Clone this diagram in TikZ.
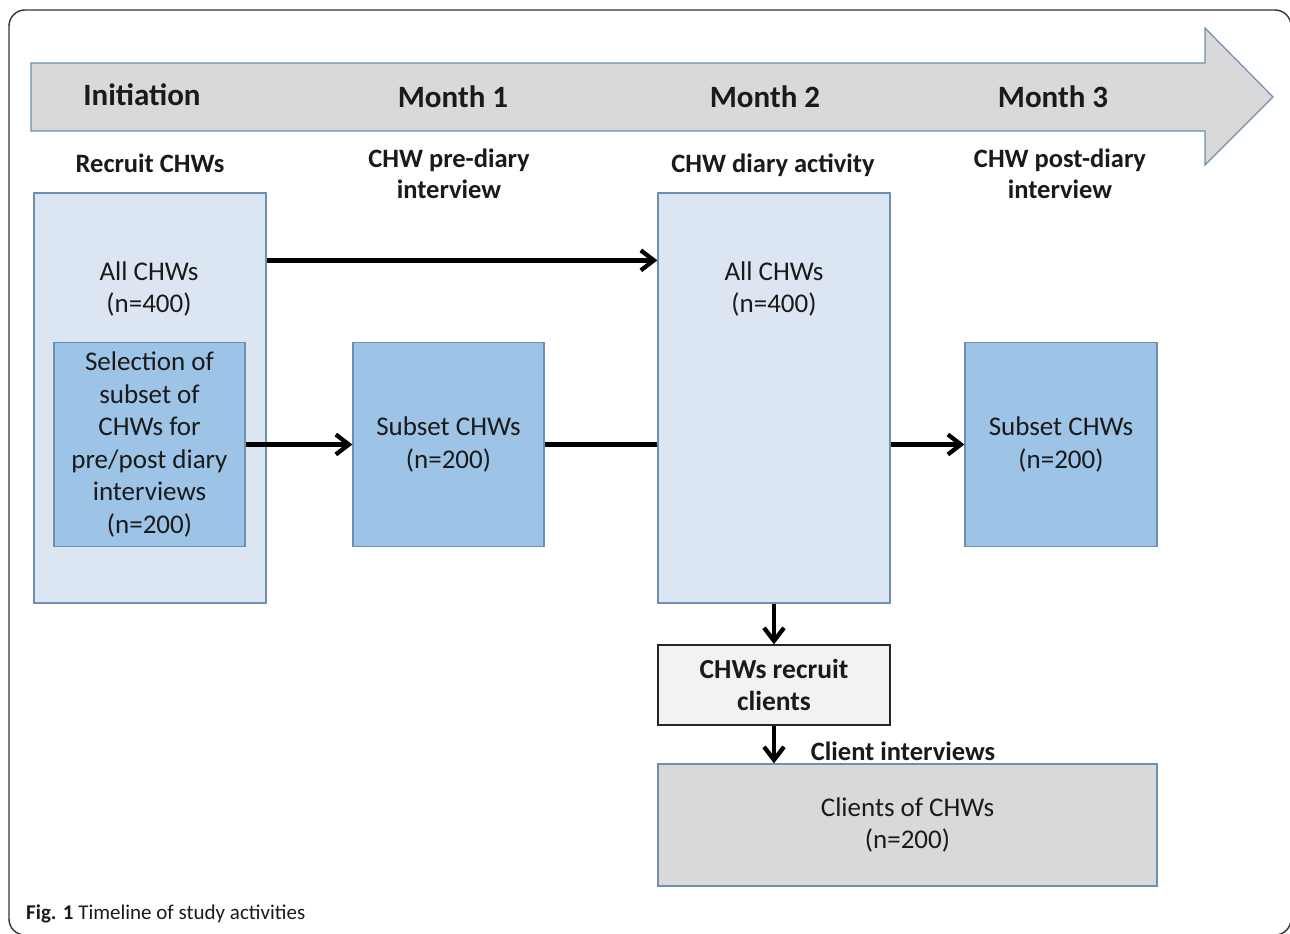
\documentclass[tikz,border=0pt]{standalone}
\usepackage{fontspec}
\setmainfont{Carlito}
\usetikzlibrary{arrows.meta,calc}
\definecolor{lightbox}{HTML}{DCE6F2}
\definecolor{midbox}{HTML}{9DC3E6}
\definecolor{boxedge}{HTML}{6F8FB0}
\definecolor{greyfill}{HTML}{D9D9D9}
\definecolor{paler}{HTML}{F2F2F2}
\definecolor{txt}{HTML}{1A1A1A}
\tikzset{
  hdr/.style={font=\fontsize{31}{32}\selectfont\bfseries, text=txt},
  subhdr/.style={font=\fontsize{26.5}{31}\selectfont\bfseries, text=txt, align=center},
  body/.style={font=\fontsize{27}{32.5}\selectfont, text=txt, align=center},
  lbox/.style={draw=boxedge, line width=1.3pt, fill=lightbox, inner sep=0pt},
  mbox/.style={draw=boxedge, line width=1.3pt, fill=midbox, inner sep=0pt},
  flow/.style={line width=4.3pt, black},
  arr/.style={flow, -{Straight Barb[length=13pt,width=20pt,line width=4.3pt]}},
}
\begin{document}
\begin{tikzpicture}[x=1pt,y=-1pt]
\useasboundingbox (0,0) rectangle (1290,934);
\clip (0,0) rectangle (1290,934);
\fill[white] (0,0) rectangle (1290,934);
% outer frame
\draw[line width=1.4pt, draw=black!80, rounded corners=16] (9,10) rectangle (1291,935);
% timeline arrow
\draw[fill=greyfill, draw=boxedge, line width=1.2pt]
  (31,63) -- (1205,63) -- (1205,28) -- (1273,97) -- (1205,165) -- (1205,131) -- (31,131) -- cycle;
\node[hdr] (t0) at (142,95) {Initiation};
\node[hdr] (t1) at (453,97) {Month 1};
\node[hdr] (t2) at (765,97) {Month 2};
\node[hdr] (t3) at (1053,97) {Month 3};
% activity labels
\node[subhdr] (h0) at (150,163) {Recruit CHWs};
\node[subhdr] (h1) at (449,174) {CHW pre-diary\\interview};
\node[subhdr] (h2) at (773,165) {CHW diary activity};
\node[subhdr] (h3) at (1060,174) {CHW post-diary\\interview};
% boxes
\node[lbox, minimum width=232pt, minimum height=410pt] (A) at (150,398) {};
\node[body] (Atext) at (149,289) {All CHWs\\(n=400)};
\node[mbox, body, minimum width=191pt, minimum height=204pt] (B) at (149.5,444.5) {Selection of\\subset of\\CHWs for\\pre/post diary\\interviews\\(n=200)};
\node[mbox, body, minimum width=191pt, minimum height=204pt] (C) at (448.5,444.5) {Subset CHWs\\(n=200)};
\node[lbox, minimum width=232pt, minimum height=410pt] (D) at (774,398) {};
\node[body] (Dtext) at (774,289) {All CHWs\\(n=400)};
\node[mbox, body, minimum width=192pt, minimum height=204pt] (E) at (1061,444.5) {Subset CHWs\\(n=200)};
\node[draw=black!85, line width=1.3pt, fill=paler, minimum width=232pt, minimum height=80pt, inner sep=0pt,
      font=\fontsize{27.5}{32}\selectfont\bfseries, text=txt, align=center] (F) at (774,685) {CHWs recruit\\clients};
\node[draw=boxedge, line width=1.3pt, fill=greyfill, minimum width=499pt, minimum height=122pt, inner sep=0pt, body] (G) at (907.5,825) {Clients of CHWs\\(n=200)};
\node[subhdr] (gl) at (903,751) {Client interviews};
% caption
\node[anchor=west, font=\fontsize{21}{24}\selectfont, text=txt, inner sep=0pt] (cap) at (26,914) {\textbf{Fig. 1} Timeline of study activities};
% connectors
\coordinate (a1) at ($(A.north east)+(0,68)$);
\draw[arr] (a1) -- (a1 -| D.west);
\draw[arr] (B.east) -- (C.west);
\draw[flow] (C.east) -- (C.east -| D.west);
\draw[arr] (C.east -| D.east) -- (E.west);
\draw[arr] (D.south) -- (F.north);
\draw[arr] (F.south) -- (G.north -| F.south);
\end{tikzpicture}
\end{document}
